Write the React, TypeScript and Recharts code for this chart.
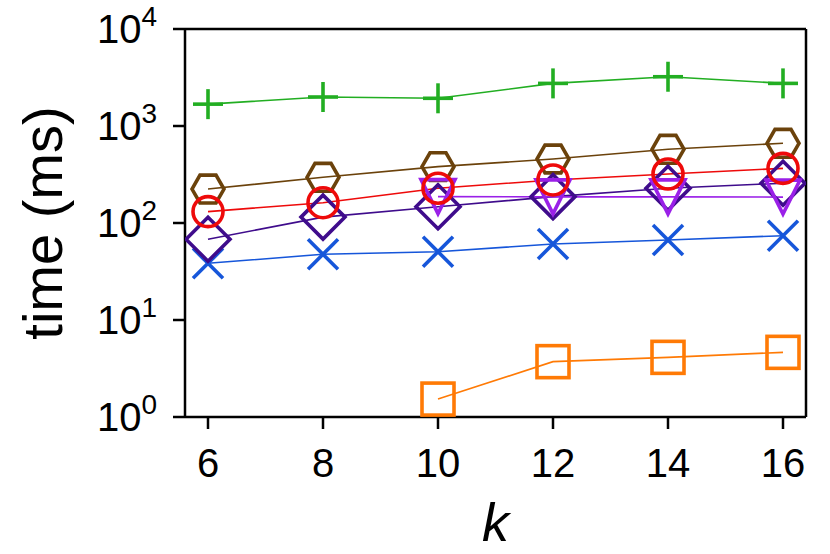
import React from 'react';
import { LineChart, Line, XAxis, YAxis, ReferenceLine } from 'recharts';

const kValues = [6, 8, 10, 12, 14, 16];
const seriesGreen = [1680, 1990, 1930, 2750, 3220, 2750];
const seriesBrown = [224, 296, 381, 457, 575, 663];
const seriesRed = [131, 162, 228, 278, 320, 366];
const seriesIndigo = [68, 115, 147, 187, 228, 257];
const seriesViolet = [null, null, 187, 186, 186, 185];
const seriesBlue = [38.4, 47.6, 50.6, 60.8, 66.8, 74];
const seriesOrange = [null, null, 1.53, 3.72, 4.12, 4.64];
const xTicks = [6, 8, 10, 12, 14, 16];
const yTicks = [1, 10, 100, 1000, 10000];

const data = kValues.map((k, i) => ({
  k,
  green: seriesGreen[i],
  brown: seriesBrown[i],
  red: seriesRed[i],
  indigo: seriesIndigo[i],
  violet: seriesViolet[i],
  blue: seriesBlue[i],
  orange: seriesOrange[i],
}));

const FONT = '"Liberation Sans", Arial, Helvetica, sans-serif';

const C = {
  green: '#22ae22',
  brown: '#6b420b',
  red: '#ee0a0a',
  indigo: '#3f0c8c',
  violet: '#9a20e8',
  blue: '#1656da',
  orange: '#ff7a05',
};

type MarkerKind = 'plus' | 'x' | 'hex' | 'circle' | 'diamond' | 'tri' | 'square';

const makeDot = (kind: MarkerKind, color: string) => (props: any) => {
  const { cx, cy, index } = props;
  const key = `${kind}-${index}`;
  if (cx == null || cy == null || props.value == null || Number.isNaN(cy)) return <g key={key} />;
  const sw = 3.6;
  switch (kind) {
    case 'plus':
      return (
        <g key={key} stroke={color} strokeWidth={sw}>
          <line x1={cx - 15} y1={cy} x2={cx + 15} y2={cy} />
          <line x1={cx} y1={cy - 15} x2={cx} y2={cy + 15} />
        </g>
      );
    case 'x':
      return (
        <g key={key} stroke={color} strokeWidth={sw}>
          <line x1={cx - 15} y1={cy - 15} x2={cx + 15} y2={cy + 15} />
          <line x1={cx - 15} y1={cy + 15} x2={cx + 15} y2={cy - 15} />
        </g>
      );
    case 'hex': {
      const r = 16;
      const h = 13.9;
      const pts = [
        [cx - r, cy], [cx - r / 2, cy - h], [cx + r / 2, cy - h],
        [cx + r, cy], [cx + r / 2, cy + h], [cx - r / 2, cy + h],
      ].map((p) => p.join(',')).join(' ');
      return <polygon key={key} points={pts} fill="none" stroke={color} strokeWidth={sw} />;
    }
    case 'circle':
      return <circle key={key} cx={cx} cy={cy} r={15} fill="none" stroke={color} strokeWidth={sw} />;
    case 'diamond': {
      const d = 22;
      const pts = `${cx},${cy - d} ${cx + d},${cy} ${cx},${cy + d} ${cx - d},${cy}`;
      return <polygon key={key} points={pts} fill="none" stroke={color} strokeWidth={sw} />;
    }
    case 'tri': {
      const a = 17;
      const pts = `${cx - a},${cy - a} ${cx + a},${cy - a} ${cx},${cy + a}`;
      return <polygon key={key} points={pts} fill="none" stroke={color} strokeWidth={sw} />;
    }
    case 'square': {
      const a = 16;
      return <rect key={key} x={cx - a} y={cy - a} width={2 * a} height={2 * a} fill="none" stroke={color} strokeWidth={sw} />;
    }
  }
  return <g key={key} />;
};

const YTick = (props: any) => {
  const { x, y, payload } = props;
  const exp = Math.round(Math.log10(payload.value));
  return (
    <text x={x} y={y} textAnchor="end" fontFamily={FONT} fontSize={40} fill="#000">
      <tspan dy={14}>10</tspan>
      <tspan dy={-17} fontSize={28}>{exp}</tspan>
    </text>
  );
};

const XTick = (props: any) => {
  const { x, y, payload } = props;
  return (
    <text x={x} y={y} dy={44} textAnchor="middle" fontFamily={FONT} fontSize={40} fill="#000">
      {payload.value}
    </text>
  );
};

const XLabel = (props: any) => {
  const vb = props.viewBox || {};
  return (
    <text
      x={vb.x + vb.width / 2}
      y={vb.y + 124}
      textAnchor="middle"
      fontFamily={FONT}
      fontStyle="italic"
      fontSize={54}
      fill="#000"
    >
      k
    </text>
  );
};

const YLabel = (props: any) => {
  const vb = props.viewBox || {};
  const cy = vb.y + vb.height / 2;
  const bx = 62;
  return (
    <text
      x={bx}
      y={cy}
      transform={`rotate(-90, ${bx}, ${cy})`}
      textAnchor="middle"
      fontFamily={FONT}
      fontSize={56}
      fill="#000"
    >
      time (ms)
    </text>
  );
};

const axisStroke = { stroke: '#000', strokeWidth: 2.5 };

export default function App() {
  return (
    <div style={{ position: 'absolute', left: 0, top: 0, width: 830, height: 554, background: '#fff' }}>
      <LineChart width={830} height={554} data={data} margin={{ top: 29, right: 24, left: 0, bottom: 0 }}>
        <XAxis
          dataKey="k"
          type="number"
          domain={[5.6, 16.4]}
          ticks={xTicks}
          allowDataOverflow
          height={137}
          tickSize={12}
          tickMargin={4}
          axisLine={axisStroke}
          tickLine={axisStroke}
          tick={<XTick />}
          label={<XLabel />}
        />
        <YAxis
          scale="log"
          type="number"
          domain={[1, 10000]}
          ticks={yTicks}
          allowDataOverflow
          width={185}
          tickSize={12}
          tickMargin={16}
          axisLine={axisStroke}
          tickLine={axisStroke}
          tick={<YTick />}
          label={<YLabel />}
        />
        <ReferenceLine y={10000} stroke="#000" strokeWidth={2.5} />
        <ReferenceLine x={16.4} stroke="#000" strokeWidth={2.5} />
        <Line dataKey="green" stroke={C.green} strokeWidth={1.6} dot={makeDot('plus', C.green)} activeDot={false} isAnimationActive={false} />
        <Line dataKey="brown" stroke={C.brown} strokeWidth={1.6} dot={makeDot('hex', C.brown)} activeDot={false} isAnimationActive={false} />
        <Line dataKey="blue" stroke={C.blue} strokeWidth={1.6} dot={makeDot('x', C.blue)} activeDot={false} isAnimationActive={false} />
        <Line dataKey="indigo" stroke={C.indigo} strokeWidth={1.6} dot={makeDot('diamond', C.indigo)} activeDot={false} isAnimationActive={false} />
        <Line dataKey="violet" stroke={C.violet} strokeWidth={1.6} dot={makeDot('tri', C.violet)} activeDot={false} isAnimationActive={false} />
        <Line dataKey="red" stroke={C.red} strokeWidth={1.6} dot={makeDot('circle', C.red)} activeDot={false} isAnimationActive={false} />
        <Line dataKey="orange" stroke={C.orange} strokeWidth={1.6} dot={makeDot('square', C.orange)} activeDot={false} isAnimationActive={false} />
      </LineChart>
    </div>
  );
}
